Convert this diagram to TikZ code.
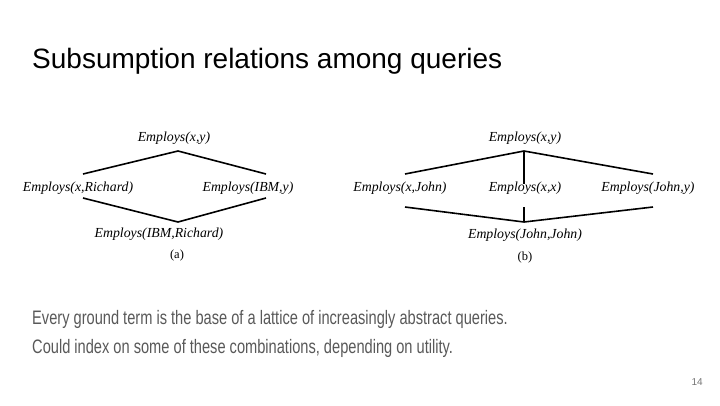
\documentclass[tikz,border=0pt]{standalone}
\usepackage{fontspec}
\setmainfont{Liberation Serif}
\newfontfamily\titlefont{Liberation Sans}
\newfontfamily\bodyfont[FakeStretch=0.75]{Liberation Sans}
\definecolor{bodygray}{HTML}{595959}
\definecolor{numgray}{HTML}{757575}
\tikzset{
  lbl/.style={anchor=base, inner sep=0pt, font=\fontsize{13.8}{15}\selectfont\itshape},
  captxt/.style={anchor=base, inner sep=0pt, font=\fontsize{12.5}{14}\selectfont},
  lnk/.style={line width=1.6pt, black},
}
\begin{document}
\begin{tikzpicture}[x=1pt,y=-1pt]
\useasboundingbox[fill=white] (0,0) rectangle (720,405);
% title
\node[anchor=base west, inner sep=0pt, font=\titlefont\fontsize{28}{32}\selectfont] (title) at (32,68) {Subsumption relations among queries};
% lattice (a)
\node[lbl] (ta) at (174,141) {Employs(x,y)};
\node[lbl] (la) at (78,191) {Employs(x,Richard)};
\node[lbl] (ra) at (248,191) {Employs(IBM,y)};
\node[lbl] (ba) at (159,237) {Employs(IBM,Richard)};
\node[captxt] (capa) at (177,258) {(a)};
\coordinate (a1) at (178,151);
\coordinate (a2) at (83,174);
\coordinate (a3) at (266,174);
\coordinate (a4) at (83,198);
\coordinate (a5) at (178,222);
\coordinate (a6) at (266,198);
\draw[lnk] (a2) -- (a1) -- (a3);
\draw[lnk] (a4) -- (a5) -- (a6);
% lattice (b)
\node[lbl] (tb) at (525,141) {Employs(x,y)};
\node[lbl] (lb) at (400,191) {Employs(x,John)};
\node[lbl] (mb) at (525,191) {Employs(x,x)};
\node[lbl] (rb) at (648,191) {Employs(John,y)};
\node[lbl] (bb) at (525,238) {Employs(John,John)};
\node[captxt] (capb) at (525,260) {(b)};
\coordinate (b1) at (524,151);
\coordinate (b2) at (405,174);
\coordinate (b3) at (653,174);
\coordinate (b4) at (524,184);
\coordinate (b5) at (405,207);
\coordinate (b6) at (524,222);
\coordinate (b7) at (653,207);
\coordinate (b8) at (524,207);
\draw[lnk] (b2) -- (b1) -- (b3);
\draw[lnk] (b1) -- (b4);
\draw[lnk] (b5) -- (b6) -- (b7);
\draw[lnk] (b8) -- (b6);
% body text
\node[anchor=base west, inner sep=0pt, text=bodygray, font=\bodyfont\fontsize{19.5}{22}\selectfont] (l1) at (32,324) {Every ground term is the base of a lattice of increasingly abstract queries.};
\node[anchor=base west, inner sep=0pt, text=bodygray, font=\bodyfont\fontsize{19.5}{22}\selectfont] (l2) at (32,353) {Could index on some of these combinations, depending on utility.};
% page number
\node[anchor=base east, inner sep=0pt, text=numgray, font=\titlefont\fontsize{10}{12}\selectfont] (pg) at (703,385) {14};
\end{tikzpicture}
\end{document}
